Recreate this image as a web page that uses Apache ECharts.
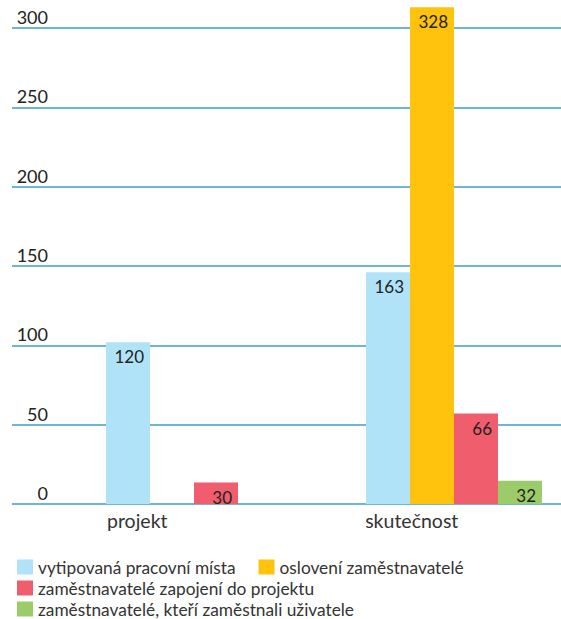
<!DOCTYPE html>
<html>
<head>
<meta charset="utf-8">
<script src="https://cdn.jsdelivr.net/npm/echarts@6/dist/echarts.min.js"></script>
<style>
  html, body { margin: 0; padding: 0; background: #ffffff; }
  #chart { width: 561px; height: 619px; }
</style>
</head>
<body>
<div id="chart"></div>
<script>
// kategorie a hodnoty
var categories = ['projekt', 'skutečnost'];
var seriesNames = [
  'vytipovaná pracovní místa',
  'oslovení zaměstnavatelé',
  'zaměstnavatelé zapojení do projektu',
  'zaměstnavatelé, kteří zaměstnali uživatele'
];
// vyska sloupcu, jak jsou nakresleny v grafu
var mistaHeights = [102, 146];
var osloveniHeights = [null, 313];
var zapojeniHeights = [13.5, 57];
var zamestnaliHeights = [null, 14.7];
// popisky nad sloupci
var mistaLabels = [120, 163];
var osloveniLabels = [null, 328];
var zapojeniLabels = [30, 66];
var zamestnaliLabels = [null, 32];
var yTicks = [0, 50, 100, 150, 200, 250, 300];

var colors = ['#b1e3f8', '#ffc30d', '#f05d6d', '#9ccc69'];
var font = 'Lato';

var chart = echarts.init(document.getElementById('chart'), null, { renderer: 'svg' });

function makeSeries(i, heights, labels) {
  return {
    name: seriesNames[i],
    type: 'bar',
    xAxisIndex: 1,
    yAxisIndex: 1,
    barWidth: 44,
    barGap: 0,
    clip: false,
    itemStyle: { color: colors[i] },
    label: {
      show: true,
      position: 'insideTopRight',
      distance: 6,
      fontFamily: font,
      fontSize: 17,
      color: '#222222',
      formatter: function (p) {
        var v = labels[p.dataIndex];
        return v == null ? '' : String(v);
      }
    },
    data: heights
  };
}

var legendText = { fontFamily: font, fontSize: 17.3, lineHeight: 18, color: '#333333' };

var option = {
  backgroundColor: '#ffffff',
  animation: false,
  grid: [
    { left: 12, width: 549, top: 28, height: 476 },
    { left: 64, width: 520, top: 28, height: 476, outerBoundsMode: 'none' }
  ],
  xAxis: [{
    gridIndex: 0,
    type: 'category',
    data: categories,
    axisLine: { show: false },
    axisTick: { show: false },
    axisLabel: {
      fontFamily: font,
      fontSize: 19.5,
      color: '#333333',
      margin: 6,
      padding: [0, 24, 0, 0]
    }
  }, {
    gridIndex: 1,
    type: 'category',
    data: categories,
    show: false
  }],
  yAxis: [{
    gridIndex: 0,
    type: 'value',
    min: 0,
    max: 300,
    interval: 50,
    axisLine: { show: false },
    axisTick: { show: false },
    splitLine: { lineStyle: { color: '#6db7d5', width: 2 } },
    axisLabel: {
      inside: true,
      align: 'right',
      verticalAlign: 'bottom',
      margin: 36,
      padding: [0, 0, 2, 0],
      fontFamily: font,
      fontSize: 18,
      color: '#222222',
      formatter: function (v) {
        return yTicks.indexOf(v) >= 0 ? String(v) : '';
      }
    }
  }, {
    gridIndex: 1,
    type: 'value',
    min: 0,
    max: 300,
    interval: 50,
    show: false,
    splitLine: { show: false }
  }],
  legend: [{
    data: [seriesNames[0], seriesNames[1]],
    left: 17, top: 558, padding: 0,
    icon: 'rect', itemWidth: 16, itemHeight: 15, itemGap: 23,
    textStyle: legendText
  }, {
    data: [seriesNames[2]],
    left: 17, top: 579, padding: 0,
    icon: 'rect', itemWidth: 16, itemHeight: 15,
    textStyle: legendText
  }, {
    data: [seriesNames[3]],
    left: 17, top: 600, padding: 0,
    icon: 'rect', itemWidth: 16, itemHeight: 15,
    textStyle: legendText
  }],
  series: [
    makeSeries(0, mistaHeights, mistaLabels),
    makeSeries(1, osloveniHeights, osloveniLabels),
    makeSeries(2, zapojeniHeights, zapojeniLabels),
    makeSeries(3, zamestnaliHeights, zamestnaliLabels)
  ]
};

chart.setOption(option);
</script>
</body>
</html>
